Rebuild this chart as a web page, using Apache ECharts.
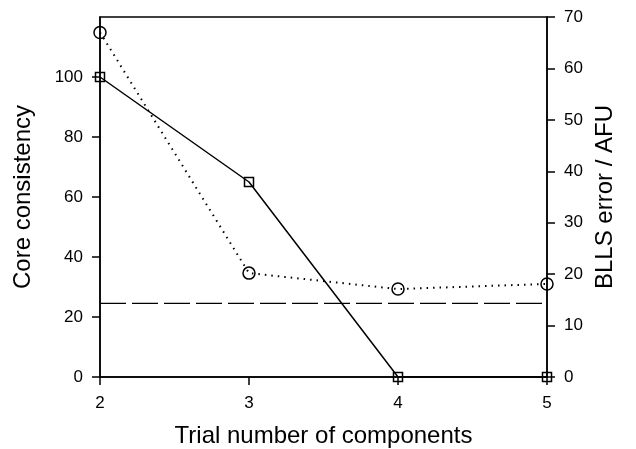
<!DOCTYPE html>
<html>
<head>
<meta charset="utf-8">
<script src="https://cdn.jsdelivr.net/npm/echarts@6/dist/echarts.min.js"></script>
<style>
  html, body { margin: 0; padding: 0; background: #fff; }
  #chart { width: 636px; height: 449px; }
</style>
</head>
<body>
<div id="chart"></div>
<script>
// trial number of components
const components = [2, 3, 4, 5]
// core consistency (left axis, squares, solid)
const coreConsistency = [100, 65, 0, 0]
// BLLS error / AFU (right axis, circles, dotted)
const bllsError = [67, 20.2, 17.1, 18.1]
// reference level (right axis, dashed)
const refLevel = 14.3

const font = 'Liberation Sans, Arial, sans-serif'

const chart = echarts.init(document.getElementById('chart'))

const axisCommon = {
  axisLine: { show: true, lineStyle: { color: '#000', width: 1.5 } },
  axisTick: { show: true, inside: false, length: 8, lineStyle: { color: '#000', width: 1.5 } },
  axisLabel: { color: '#000', fontSize: 17, fontFamily: font },
  splitLine: { show: false },
  nameTextStyle: { color: '#000', fontSize: 24, fontFamily: font }
}

chart.setOption({
  animation: false,
  grid: {
    left: 100, right: 89, top: 17, bottom: 72,
    outerBoundsMode: 'none',
    show: true, borderColor: '#000', borderWidth: 1.5
  },
  xAxis: {
    type: 'value',
    min: 2, max: 5, interval: 1,
    name: 'Trial number of components',
    nameLocation: 'middle',
    nameGap: 47,
    ...axisCommon,
    axisLabel: { ...axisCommon.axisLabel, margin: 18 }
  },
  yAxis: [
    {
      type: 'value',
      min: 0, max: 120, interval: 20,
      position: 'left',
      name: 'Core consistency',
      nameLocation: 'middle',
      nameGap: 65,
      ...axisCommon,
      axisLabel: { ...axisCommon.axisLabel, margin: 17, showMaxLabel: false }
    },
    {
      type: 'value',
      min: 0, max: 70, interval: 10,
      position: 'right',
      name: 'BLLS error / AFU',
      nameLocation: 'middle',
      nameGap: 44,
      nameRotate: 90,
      ...axisCommon,
      axisLabel: { ...axisCommon.axisLabel, margin: 17 }
    }
  ],
  series: [
    {
      type: 'line',
      yAxisIndex: 0,
      data: components.map((c, i) => [c, coreConsistency[i]]),
      symbol: 'rect',
      symbolSize: 9,
      itemStyle: { color: 'transparent', borderColor: '#000', borderWidth: 1.5 },
      lineStyle: { color: '#000', width: 1.5 },
      z: 3
    },
    {
      type: 'line',
      yAxisIndex: 1,
      data: components.map((c, i) => [c, bllsError[i]]),
      symbol: 'circle',
      symbolSize: 12,
      itemStyle: { color: 'transparent', borderColor: '#000', borderWidth: 1.5 },
      lineStyle: { color: '#000', width: 2, type: [1.5, 5] },
      z: 3
    },
    {
      type: 'line',
      yAxisIndex: 1,
      data: [[components[0], refLevel], [components[components.length - 1], refLevel]],
      symbol: 'none',
      lineStyle: { color: '#000', width: 1.2, type: [26, 6] },
      z: 2
    }
  ]
})
</script>
</body>
</html>
